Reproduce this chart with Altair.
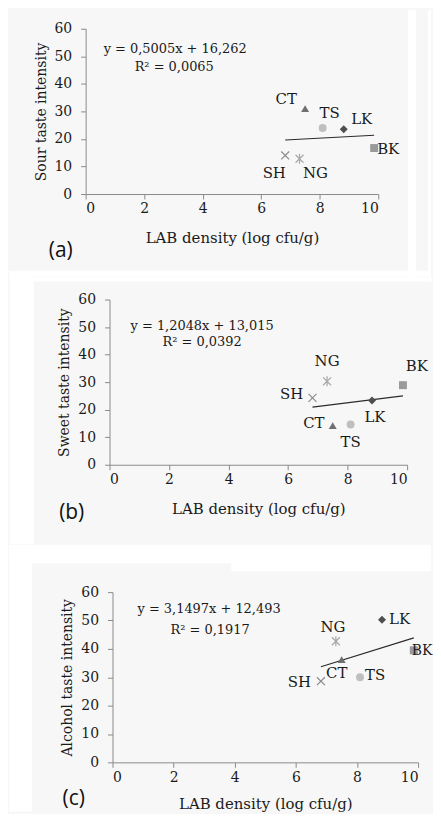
import altair as alt
import pandas as pd

# ---- data ----
samples = ["CT", "TS", "LK", "BK", "SH", "NG"]
lab_density = [7.50, 8.10, 8.82, 9.86, 6.82, 7.31]
sour = [31.0, 24.0, 23.5, 16.7, 14.0, 12.8]
sweet = [14.2, 14.6, 23.3, 28.9, 24.3, 30.3]
alcohol = [36.2, 30.0, 50.3, 39.5, 28.6, 42.7]

x_ticks = [0, 2, 4, 6, 8, 10]
y_ticks = [0, 10, 20, 30, 40, 50, 60]

x_title = "LAB density (log cfu/g)"
y_titles = ["Sour taste intensity", "Sweet taste intensity", "Alcohol taste intensity"]
eq_lines = [
    ("y = 0,5005x + 16,262", "R² = 0,0065"),
    ("y = 1,2048x + 13,015", "R² = 0,0392"),
    ("y = 3,1497x + 12,493", "R² = 0,1917"),
]
tags = ["(a)", "(b)", "(c)"]

# ---- styles ----
SERIF = "DejaVu Serif"
SANS = "Open Sans"
shape_range = [
    "triangle-up", "circle", "diamond", "square",
    "M-1,-1L1,1M-1,1L1,-1",
    "M-1,-1L1,1M-1,1L1,-1M0,-1.25L0,1.25",
]
color_range = ["#6f6f6f", "#bfbfbf", "#4f4f4f", "#9a9a9a", "#8c8c8c", "#a8a8a8"]
size_range = [64, 64, 64, 49, 100, 90]
filled_set = ["CT", "TS", "LK", "BK"]
stroked_set = ["SH", "NG"]

# layout per panel, all relative to the plot origin:
# frame = invisible cell bounds (each cell 268 px tall), gaps = white strips between grey panels
layouts = [
    dict(w=294, h=166, xtp=15, frame=(-77, -19, 347, 249),
         gaps=[(-77, 243, 347, 249), (324, -19, 332, 249), (344, -19, 347, 249)],
         eq1=(90, 20), eq2=(89, 38), tag=(-25, 223),
         lbl={"CT": (-19, -10, "center", 15), "TS": (7, -15, "center", 15), "LK": (18, -10, "center", 15),
              "BK": (3, 1, "left", 15), "SH": (-11, 18, "center", 15), "NG": (16, 14, "center", 15)}),
    dict(w=299, h=166, xtp=15, frame=(-100.3, -22.3, 323.7, 245.7),
         gaps=[(-100.3, -22.3, 323.7, -18), (-100.3, -22.3, -76, 245.7)],
         eq1=(93, 27), eq2=(93, 43), tag=(-38, 215),
         lbl={"CT": (-19, -3, "center", 15), "TS": (0, 18, "center", 15), "LK": (3, 17, "center", 15),
              "BK": (14, -19, "center", 15), "SH": (-21, -4, "center", 15), "NG": (0, -20, "center", 15)}),
    dict(w=307, h=171, xtp=12, frame=(-103.7, -47.7, 320.3, 220.3),
         gaps=[(-103.7, -47.7, 320.3, -29), (-103.7, -47.7, -81, 220.3), (119.3, -29, 320.3, -21)],
         eq1=(97, 17), eq2=(98, 38), tag=(-39, 208),
         lbl={"CT": (-5, 13, "center", 15), "TS": (5, -2, "left", 15), "LK": (7, -1, "left", 15),
              "BK": (-2, 1, "left", 14), "SH": (-10, 1, "right", 15), "NG": (-3, -14, "center", 15)}),
]

dummy = pd.DataFrame({"d": [0]})


def box(rect, color, opacity=1.0):
    x0, y0, x1, y1 = rect
    return alt.Chart(dummy).mark_rect(color=color, opacity=opacity, clip=False).encode(
        x=alt.value(x0), x2=alt.value(x1), y=alt.value(y0), y2=alt.value(y1))


def make_panel(values, ytitle, eqs, tag, lay):
    df = pd.DataFrame({"sample": samples, "lab": lab_density, "value": values})
    base = alt.Chart(df)
    x_enc = alt.X("lab:Q", scale=alt.Scale(domain=[0, 10], nice=False),
                  axis=alt.Axis(values=x_ticks, title=x_title, labelPadding=3, titlePadding=lay["xtp"],
                                titleFontSize=15))
    y_enc = alt.Y("value:Q", scale=alt.Scale(domain=[0, 60], nice=False),
                  axis=alt.Axis(values=y_ticks, title=ytitle, labelPadding=9, titlePadding=6,
                                titleFontSize=14))
    shape = alt.Shape("sample:N", scale=alt.Scale(domain=samples, range=shape_range), legend=None)
    color = alt.Color("sample:N", scale=alt.Scale(domain=samples, range=color_range), legend=None)
    size = alt.Size("sample:N", scale=alt.Scale(domain=samples, range=size_range), legend=None)

    trend = base.transform_regression("lab", "value").mark_line(
        color="#2b2b2b", strokeWidth=1.2).encode(x=x_enc, y=y_enc)

    pts_f = base.transform_filter(alt.FieldOneOfPredicate(field="sample", oneOf=filled_set)).mark_point(
        filled=True, opacity=1).encode(x=x_enc, y=y_enc, shape=shape, color=color, size=size)
    pts_s = base.transform_filter(alt.FieldOneOfPredicate(field="sample", oneOf=stroked_set)).mark_point(
        filled=False, opacity=1, strokeWidth=1.2).encode(x=x_enc, y=y_enc, shape=shape, color=color, size=size)

    layers = [box(lay["frame"], "#ffffff", 0.0)]
    layers += [box(g, "#ffffff") for g in lay["gaps"]]
    layers += [trend, pts_f, pts_s]
    for s in samples:
        dx, dy, al, fs = lay["lbl"][s]
        layers.append(
            base.transform_filter(alt.datum.sample == s).mark_text(
                font=SERIF, fontSize=fs, color="#1a1a1a", dx=dx, dy=dy, align=al, baseline="middle"
            ).encode(x=x_enc, y=y_enc, text="sample:N")
        )
    for txt, pos in zip(eqs, (lay["eq1"], lay["eq2"])):
        layers.append(alt.Chart(dummy).mark_text(
            font=SERIF, fontSize=13, color="#1a1a1a", align="center", baseline="middle"
        ).encode(x=alt.value(pos[0]), y=alt.value(pos[1]), text=alt.value(txt)))
    layers.append(alt.Chart(dummy).mark_text(
        font=SANS, fontSize=21, color="#111111", align="center", baseline="middle", clip=False
    ).encode(x=alt.value(lay["tag"][0]), y=alt.value(lay["tag"][1]), text=alt.value(tag)))

    return alt.layer(*layers).properties(width=lay["w"], height=lay["h"])


def spacer():
    return alt.Chart(dummy).mark_rect(opacity=0).encode(
        x=alt.value(0), x2=alt.value(1), y=alt.value(0), y2=alt.value(1)
    ).properties(width=1, height=1)


rows = [alt.hconcat(spacer(), make_panel(v, yt, eqs, tag, lay), spacing=0)
        for v, yt, eqs, tag, lay in zip([sour, sweet, alcohol], y_titles, eq_lines, tags, layouts)]

chart = alt.vconcat(*rows, spacing=0).properties(
    padding={"left": 0, "top": 0, "right": 0, "bottom": 0}, background="#f7f7f7"
).configure_view(stroke=None).configure_axis(
    grid=False,
    labelFont=SERIF, labelFontSize=14, labelColor="#1a1a1a",
    titleFont=SERIF, titleFontWeight="normal", titleColor="#1a1a1a",
    domainColor="#8a8a8a", tickColor="#8a8a8a", tickSize=5, domainWidth=1, tickWidth=1,
)

chart.save("out.html", embed_options={"renderer": "svg", "actions": False})
